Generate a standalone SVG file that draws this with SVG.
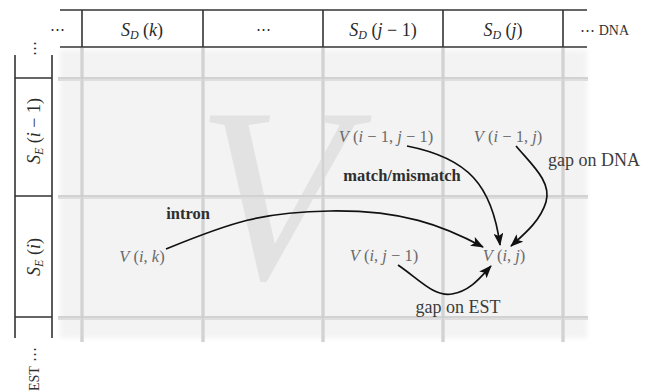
<svg xmlns="http://www.w3.org/2000/svg" width="654" height="392" viewBox="0 0 654 392">
<defs>
<style>
.bd{stroke:#333;stroke-width:1.6;fill:none}
.gl{stroke:#dedede;stroke-width:4;fill:none}
.gc{stroke:#c6c6c6;stroke-width:1;fill:none}
.hd{font-family:"Liberation Serif","DejaVu Serif",serif;font-size:18px;fill:#2a2a2a;text-anchor:middle}
.cl{font-family:"Liberation Serif","DejaVu Serif",serif;font-size:16.5px;fill:#6a6a6a;text-anchor:middle}
.lb{font-family:"Liberation Serif","DejaVu Serif",serif;font-size:18px;fill:#3c3c3c;text-anchor:middle}
.bl{font-family:"Liberation Serif","DejaVu Serif",serif;font-size:16.5px;font-weight:bold;fill:#2e2e2e;text-anchor:middle}
.it{font-style:italic}
.sub{font-size:12px;font-style:italic}
.ar{stroke:#111;stroke-width:1.7;fill:none;marker-end:url(#ah)}
</style>
<filter id="bg" x="-5%" y="-5%" width="110%" height="110%"><feGaussianBlur stdDeviation="2.5"/></filter>
<marker id="ah" markerUnits="userSpaceOnUse" markerWidth="14" markerHeight="10" refX="12" refY="5" orient="auto" viewBox="0 0 14 10">
<path d="M0,0 L13,5 L0,10 L3,5 Z" fill="#111"/>
</marker>
</defs>
<rect width="654" height="392" fill="#fff"/>
<g id="grid">
<rect x="60" y="50" width="527" height="288" fill="#f3f3f3" filter="url(#bg)"/>
<text x="272" y="278" font-family="Liberation Serif,serif" font-style="italic" font-size="248" fill="#e2e2e2" text-anchor="middle">V</text>
<g class="gl">
<line x1="58" y1="79" x2="588" y2="79"/>
<line x1="58" y1="197" x2="588" y2="197"/>
<line x1="58" y1="318" x2="588" y2="318"/>
<line x1="82" y1="48" x2="82" y2="342"/>
<line x1="203" y1="48" x2="203" y2="342"/>
<line x1="323" y1="48" x2="323" y2="342"/>
<line x1="443" y1="48" x2="443" y2="342"/>
<line x1="563" y1="48" x2="563" y2="342"/>
</g>
<g class="gc">
<line x1="58" y1="78" x2="588" y2="78"/>
<line x1="58" y1="196" x2="588" y2="196"/>
<line x1="58" y1="317" x2="588" y2="317"/>
<line x1="82" y1="48" x2="82" y2="342"/>
<line x1="203" y1="48" x2="203" y2="342"/>
<line x1="323" y1="48" x2="323" y2="342"/>
<line x1="443" y1="48" x2="443" y2="342"/>
<line x1="563" y1="48" x2="563" y2="342"/>
</g>
</g>
<g id="dna-header">
<line class="bd" x1="60" y1="10" x2="587" y2="10"/>
<line class="bd" x1="60" y1="47" x2="587" y2="47"/>
<line class="bd" x1="82" y1="10" x2="82" y2="47"/>
<line class="bd" x1="203" y1="10" x2="203" y2="47"/>
<line class="bd" x1="323" y1="10" x2="323" y2="47"/>
<line class="bd" x1="443" y1="10" x2="443" y2="47"/>
<line class="bd" x1="563" y1="10" x2="563" y2="47"/>
<text class="hd" x="57" y="34" style="font-size:15px">⋯</text>
<text class="hd" x="142" y="36"><tspan class="it">S</tspan><tspan class="sub" dy="3">D</tspan><tspan dy="-3"> (</tspan><tspan class="it">k</tspan>)</text>
<text class="hd" x="263" y="34" style="font-size:15px">⋯</text>
<text class="hd" x="383" y="36"><tspan class="it">S</tspan><tspan class="sub" dy="3">D</tspan><tspan dy="-3"> (</tspan><tspan class="it">j</tspan> − 1)</text>
<text class="hd" x="503" y="36"><tspan class="it">S</tspan><tspan class="sub" dy="3">D</tspan><tspan dy="-3"> (</tspan><tspan class="it">j</tspan>)</text>
<text x="580" y="35" font-family="Liberation Serif,DejaVu Serif,serif" font-size="15" fill="#333">⋯ <tspan font-size="14">DNA</tspan></text>
</g>
<g id="est-column">
<line class="bd" x1="15" y1="55" x2="15" y2="338"/>
<line class="bd" x1="52" y1="55" x2="52" y2="338"/>
<line class="bd" x1="15" y1="78" x2="52" y2="78"/>
<line class="bd" x1="15" y1="196" x2="52" y2="196"/>
<line class="bd" x1="15" y1="317" x2="52" y2="317"/>
<text class="hd" transform="translate(39,48) rotate(-90)" style="font-size:15px">⋯</text>
<text class="hd" transform="translate(40,131) rotate(-90)"><tspan class="it">S</tspan><tspan class="sub" dy="3">E</tspan><tspan dy="-3"> (</tspan><tspan class="it">i</tspan> − 1)</text>
<text class="hd" transform="translate(40,257) rotate(-90)"><tspan class="it">S</tspan><tspan class="sub" dy="3">E</tspan><tspan dy="-3"> (</tspan><tspan class="it">i</tspan>)</text>
<text transform="translate(39,391) rotate(-90)" font-family="Liberation Serif,DejaVu Serif,serif" font-size="15" fill="#333"><tspan font-size="14">EST</tspan> ⋯</text>
</g>
<g id="v-im1-jm1"><text class="cl" x="386" y="142"><tspan class="it">V</tspan> (<tspan class="it">i</tspan> − 1, <tspan class="it">j</tspan> − 1)</text></g>
<g id="v-im1-j"><text class="cl" x="508" y="142"><tspan class="it">V</tspan> (<tspan class="it">i</tspan> − 1, <tspan class="it">j</tspan>)</text></g>
<g id="v-i-k"><text class="cl" x="142" y="262"><tspan class="it">V</tspan> (<tspan class="it">i</tspan>, <tspan class="it">k</tspan>)</text></g>
<g id="v-i-jm1"><text class="cl" x="384" y="261"><tspan class="it">V</tspan> (<tspan class="it">i</tspan>, <tspan class="it">j</tspan> − 1)</text></g>
<g id="v-i-j"><text class="cl" x="504" y="261"><tspan class="it">V</tspan> (<tspan class="it">i</tspan>, <tspan class="it">j</tspan>)</text></g>
<g id="connectors">
<path class="ar" d="M407,146 C468,158 492,185 500,245"/>
<path class="ar" d="M516,146 C532,165 552,182 546,202 C540,222 522,236 511,246"/>
<path class="ar" d="M166,249 C232,222 262,212 330,211 C402,210 442,225 483,247"/>
<path class="ar" d="M398,265 C420,280 434,297 452,294 C470,291 480,278 491,266"/>
<text class="bl" x="402" y="181">match/mismatch</text>
<text class="lb" x="594" y="166">gap on DNA</text>
<text class="bl" x="188" y="219">intron</text>
<text class="lb" x="458" y="313">gap on EST</text>
</g>
</svg>
